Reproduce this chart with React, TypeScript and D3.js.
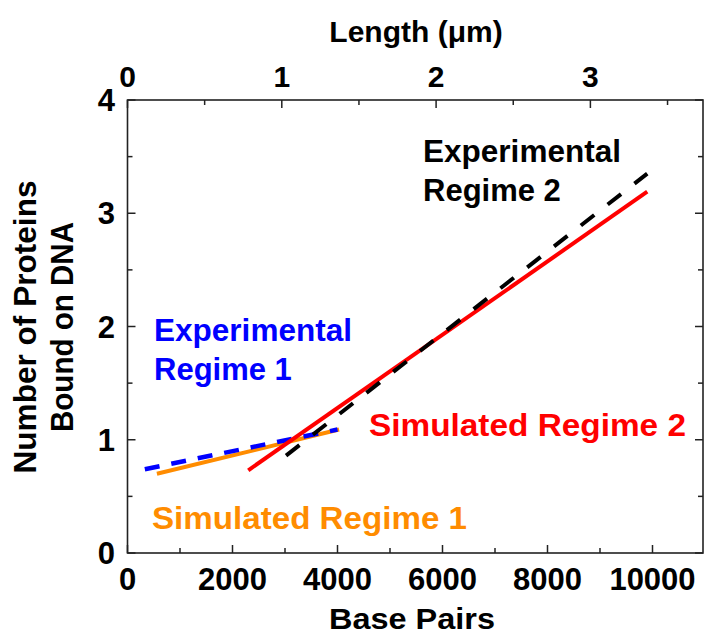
import React from "react";
import * as d3 from "d3";

// ---- data ----
const bottomTicks = [0, 2000, 4000, 6000, 8000, 10000];
const bottomMinor = [1000, 3000, 5000, 7000, 9000];
const topTicks = [0, 1, 2, 3];
const topMinor = [0.5, 1.5, 2.5, 3.5];
const leftTicks = [0, 1, 2, 3, 4];
const leftMinor = [0.5, 1.5, 2.5, 3.5];

const expRegime1X = [330, 4000];
const expRegime1Y = [0.74, 1.09];
const simRegime1X = [560, 4030];
const simRegime1Y = [0.7, 1.09];
const simRegime2X = [2300, 9900];
const simRegime2Y = [0.73, 3.19];
const expRegime2X = [3020, 9900];
const expRegime2Y = [0.86, 3.35];

const BP_PER_UM = 2939;

const FONT = "'Liberation Sans', Arial, Helvetica, sans-serif";

export default function App() {
  const W = 704;
  const H = 636;
  const left = 127.5;
  const right = 703;
  const top = 100;
  const bottom = 553;

  const x = d3.scaleLinear().domain([0, 10000]).range([left, 652.5]);
  const xTop = d3.scaleLinear().domain([0, 1]).range([left, left + (x(BP_PER_UM) - left)]);
  const y = d3.scaleLinear().domain([0, 4]).range([bottom, top]);

  const line = d3
    .line<[number, number]>()
    .x((d) => x(d[0]))
    .y((d) => y(d[1]));

  const mk = (xs: number[], ys: number[]) => line(xs.map((v, i) => [v, ys[i]] as [number, number])) || "";

  const axisColor = "#222";
  const major = 8;
  const minor = 5;

  return (
    <svg
      width={W}
      height={H}
      style={{ position: "absolute", left: 0, top: 0, background: "#fff" }}
      fontFamily={FONT}
      fontWeight="bold"
    >
      <rect x={0} y={0} width={W} height={H} fill="#fff" />
      {/* frame */}
      <rect x={left} y={top} width={right - left} height={bottom - top} fill="none" stroke={axisColor} strokeWidth={1.6} />

      {/* bottom ticks */}
      {bottomTicks.map((t) => (
        <g key={"b" + t}>
          <line x1={x(t)} x2={x(t)} y1={bottom} y2={bottom - major} stroke={axisColor} strokeWidth={1.5} />
          <text x={x(t)} y={590} textAnchor="middle" fontSize={31} fill="#000">
            {t}
          </text>
        </g>
      ))}
      {bottomMinor.map((t) => (
        <line key={"bm" + t} x1={x(t)} x2={x(t)} y1={bottom} y2={bottom - minor} stroke={axisColor} strokeWidth={1.5} />
      ))}

      {/* top ticks */}
      {topTicks.map((t) => (
        <g key={"t" + t}>
          <line x1={xTop(t)} x2={xTop(t)} y1={top} y2={top + major} stroke={axisColor} strokeWidth={1.5} />
          <text x={xTop(t)} y={87} textAnchor="middle" fontSize={30} fill="#000">
            {t}
          </text>
        </g>
      ))}
      {topMinor.map((t) => (
        <line key={"tm" + t} x1={xTop(t)} x2={xTop(t)} y1={top} y2={top + minor} stroke={axisColor} strokeWidth={1.5} />
      ))}

      {/* left / right ticks */}
      {leftTicks.map((t) => (
        <g key={"l" + t}>
          <line x1={left} x2={left + major} y1={y(t)} y2={y(t)} stroke={axisColor} strokeWidth={1.5} />
          <line x1={right} x2={right - major} y1={y(t)} y2={y(t)} stroke={axisColor} strokeWidth={1.5} />
          <text x={115} y={y(t) + 11} textAnchor="end" fontSize={31} fill="#000">
            {t}
          </text>
        </g>
      ))}
      {leftMinor.map((t) => (
        <g key={"lm" + t}>
          <line x1={left} x2={left + minor} y1={y(t)} y2={y(t)} stroke={axisColor} strokeWidth={1.5} />
          <line x1={right} x2={right - minor} y1={y(t)} y2={y(t)} stroke={axisColor} strokeWidth={1.5} />
        </g>
      ))}

      {/* axis titles */}
      <text x={416} y={42} textAnchor="middle" fontSize={30} fill="#000">
        Length (μm)
      </text>
      <text x={412} y={629} textAnchor="middle" fontSize={30} fill="#000" textLength={166} lengthAdjust="spacingAndGlyphs">
        Base Pairs
      </text>
      <g transform={`translate(36, 327) rotate(-90)`}>
        <text x={0} y={0} textAnchor="middle" fontSize={31} fill="#000" textLength={293} lengthAdjust="spacingAndGlyphs">
          Number of Proteins
        </text>
      </g>
      <g transform={`translate(73, 327) rotate(-90)`}>
        <text x={0} y={0} textAnchor="middle" fontSize={31} fill="#000" textLength={210} lengthAdjust="spacingAndGlyphs">
          Bound on DNA
        </text>
      </g>

      {/* lines */}
      <path d={mk(simRegime1X, simRegime1Y)} fill="none" stroke="#FF8C00" strokeWidth={4} />
      <path d={mk(expRegime1X, expRegime1Y)} fill="none" stroke="#0000FF" strokeWidth={4.5} strokeDasharray="15 12" />
      <path d={mk(simRegime2X, simRegime2Y)} fill="none" stroke="#FF0000" strokeWidth={4} />
      <path d={mk(expRegime2X, expRegime2Y)} fill="none" stroke="#000" strokeWidth={4} strokeDasharray="17 17" />

      {/* annotations */}
      <text x={423} y={162} fontSize={31} fill="#000" textLength={198} lengthAdjust="spacingAndGlyphs">
        Experimental
      </text>
      <text x={423} y={201} fontSize={31} fill="#000">
        Regime 2
      </text>
      <text x={154} y={341} fontSize={31} fill="#0000FF" textLength={198} lengthAdjust="spacingAndGlyphs">
        Experimental
      </text>
      <text x={154} y={380} fontSize={31} fill="#0000FF">
        Regime 1
      </text>
      <text x={369} y={436} fontSize={31} fill="#FF0000" textLength={317} lengthAdjust="spacingAndGlyphs">
        Simulated Regime 2
      </text>
      <text x={152} y={529} fontSize={31} fill="#FF8C00" textLength={315} lengthAdjust="spacingAndGlyphs">
        Simulated Regime 1
      </text>
    </svg>
  );
}
